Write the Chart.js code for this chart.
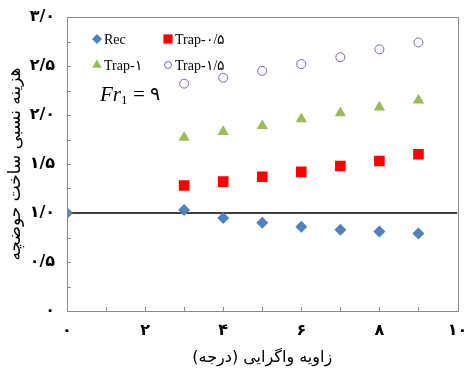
<!DOCTYPE html>
<html><head><meta charset="utf-8">
<script src="https://cdn.jsdelivr.net/npm/chart.js@4.4.1/dist/chart.umd.min.js"></script>
<style>html,body{margin:0;padding:0;background:#fff}#wrap{width:465px;height:372px}</style>
</head><body><div id="wrap"><canvas id="c" width="465" height="372"></canvas></div>
<script>
const recAngles = [0, 3, 4, 5, 6, 7, 8, 9];
const recValues = [1.00, 1.03, 0.95, 0.90, 0.86, 0.83, 0.81, 0.79];
const trapAngles = [3, 4, 5, 6, 7, 8, 9];
const trap05Values = [1.28, 1.32, 1.37, 1.42, 1.48, 1.53, 1.60];
const trap1Values = [1.77, 1.83, 1.89, 1.96, 2.02, 2.08, 2.15];
const trap15Values = [2.32, 2.38, 2.45, 2.52, 2.59, 2.67, 2.74];
const refLineX = [0, 10];
const refLineY = [1, 1];
const seriesNames = ['Rec', 'Trap-۰/۵', 'Trap-۱', 'Trap-۱/۵'];
const xTickLabels = ['۰', '۲', '۴', '۶', '۸', '۱۰'];
const yTickLabels = ['۰', '۰/۵', '۱/۰', '۱/۵', '۲/۰', '۲/۵', '۳/۰'];
const xTitle = 'زاویه واگرایی (درجه)';
const yTitle = 'هزینه نسبی ساخت حوضچه';
const froudeDigit = '۹';

const pts = (xs, ys) => xs.map((x, i) => ({x: x, y: ys[i]}));
const FA = "'DejaVu Sans', sans-serif";
const FRAME = '#8a8a8a';

const innerTicks = {
  id: 'innerTicks',
  afterDraw(chart) {
    const ctx = chart.ctx, a = chart.chartArea;
    const xs = chart.scales.x, ys = chart.scales.y;
    ctx.save();
    ctx.strokeStyle = FRAME; ctx.lineWidth = 1;
    ctx.strokeRect(Math.round(a.left) + 0.5, Math.round(a.top) + 0.5, Math.round(a.right - a.left), Math.round(a.bottom - a.top));
    ctx.beginPath();
    ys.ticks.forEach(t => { const p = Math.round(ys.getPixelForValue(t.value)) + 0.5; ctx.moveTo(a.left, p); ctx.lineTo(a.left + 4, p); });
    xs.ticks.forEach(t => { const p = Math.round(xs.getPixelForValue(t.value)) + 0.5; ctx.moveTo(p, a.bottom); ctx.lineTo(p, a.bottom - 4); });
    ctx.stroke();
    // legend
    const ds = chart.data.datasets;
    const spots = [[97, 39], [168, 39], [97, 65], [168, 65]];
    ctx.font = "14px 'Liberation Serif', serif";
    ctx.textBaseline = 'middle'; ctx.textAlign = 'left';
    spots.forEach((s, i) => {
      const d = ds[i];
      ctx.fillStyle = d.backgroundColor; ctx.strokeStyle = d.borderColor; ctx.lineWidth = d.borderWidth;
      Chart.helpers.drawPoint(ctx, {pointStyle: d.pointStyle, radius: d.legendRadius, borderWidth: d.borderWidth}, s[0], s[1]);
      ctx.fillStyle = '#000';
      ctx.fillText(seriesNames[i], s[0] + 7, s[1] + 1);
    });
    // Fr1 = 9
    ctx.fillStyle = '#000';
    ctx.font = "italic 21px 'Liberation Serif', serif";
    ctx.fillText('Fr', 100, 95);
    let w = ctx.measureText('Fr').width;
    ctx.font = "13px 'Liberation Serif', serif";
    ctx.fillText('1', 100 + w, 101);
    ctx.font = "21px 'Liberation Serif', serif";
    ctx.fillText('=', 100 + w + 12, 95);
    ctx.font = "19px " + FA;
    ctx.fillText(froudeDigit, 100 + w + 29, 95);
    ctx.restore();
  }
};

new Chart(document.getElementById('c'), {
  type: 'scatter',
  data: {
    datasets: [
      {label: seriesNames[0], data: pts(recAngles, recValues), pointStyle: 'rectRot', pointRadius: 6, legendRadius: 5, backgroundColor: '#4F81BD', borderColor: '#4F81BD', borderWidth: 0},
      {label: seriesNames[1], data: pts(trapAngles, trap05Values), pointStyle: 'rect', pointRadius: 7.5, legendRadius: 6.5, backgroundColor: '#FF0000', borderColor: '#FF0000', borderWidth: 0},
      {label: seriesNames[2], data: pts(trapAngles, trap1Values), pointStyle: 'triangle', pointRadius: 6.5, legendRadius: 5.5, backgroundColor: '#9BBB59', borderColor: '#9BBB59', borderWidth: 0},
      {label: seriesNames[3], data: pts(trapAngles, trap15Values), pointStyle: 'circle', pointRadius: 4.5, legendRadius: 3.5, backgroundColor: 'rgba(255,255,255,0)', borderColor: '#8064A2', borderWidth: 1},
      {label: 'ref', data: pts(refLineX, refLineY), showLine: true, pointRadius: 0, borderColor: '#000', borderWidth: 1.5, backgroundColor: '#000'}
    ]
  },
  options: {
    responsive: false, animation: false,
    layout: {padding: {left: 0, top: 17, right: 7, bottom: 0}},
    plugins: {legend: {display: false}, tooltip: {enabled: false}},
    scales: {
      x: {
        min: 0, max: 10,
        afterFit(s) { s.height = 61; s.paddingLeft = 0; s.paddingRight = 0; },
        grid: {display: false, drawTicks: false},
        border: {display: false},
        ticks: {stepSize: 1, autoSkip: false, maxRotation: 0, padding: 10, color: '#000', font: {family: FA, size: 16, weight: 'bold'},
          callback: v => (v % 2 === 0 ? xTickLabels[v / 2] : '')},
        title: {display: true, text: xTitle, color: '#000', font: {family: FA, size: 16}, padding: {top: 0, bottom: 5}}
      },
      y: {
        min: 0, max: 3,
        afterFit(s) { s.width = 67; s.paddingTop = 0; s.paddingBottom = 0; },
        grid: {display: false, drawTicks: false},
        border: {display: false},
        ticks: {stepSize: 0.25, autoSkip: false, padding: 12, color: '#000', font: {family: FA, size: 16, weight: 'bold'},
          callback: v => (Math.abs(v * 2 - Math.round(v * 2)) < 1e-6 ? yTickLabels[Math.round(v * 2)] : '')},
        title: {display: true, text: yTitle, color: '#000', font: {family: FA, size: 17}, padding: {top: 5, bottom: 0}}
      }
    }
  },
  plugins: [innerTicks]
});
</script></body></html>
